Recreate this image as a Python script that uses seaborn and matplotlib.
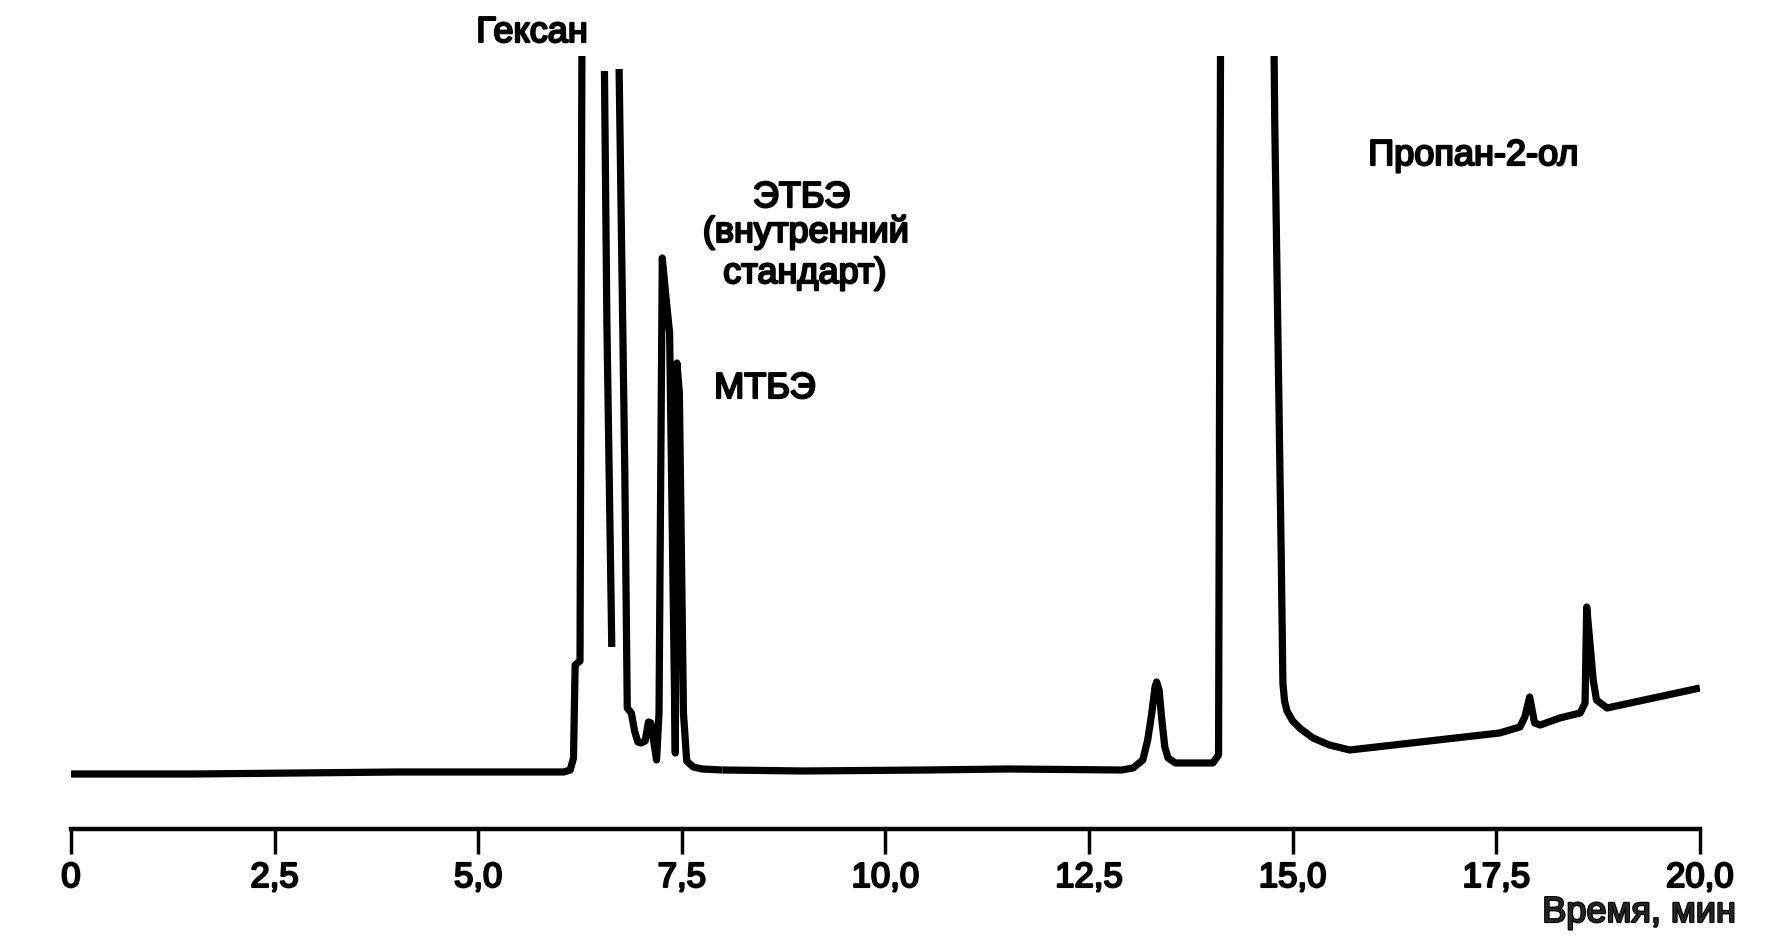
import pandas as pd
import matplotlib.pyplot as plt
import matplotlib.patheffects as pe
import seaborn as sns

# Хроматограмма: время удерживания (мин) и сигнал детектора (усл. ед.)
# значения 900 - пик уходит за верх шкалы (обрезается)
hexane_time = [0.0, 1.5, 2.8, 4.0, 5.9, 6.05, 6.13, 6.17, 6.19, 6.25, 6.28]
hexane_signal = [-1, -1, 0, 1, 1, 1, 3, 15, 108, 112, 900]

peak2_time = [6.55, 6.58, 6.64]
peak2_signal = [702, 450, 126]

ethers_time = [6.73, 6.80, 6.83, 6.88, 6.92, 6.96, 7.00, 7.05, 7.09, 7.12, 7.19, 7.22,
               7.26, 7.30, 7.35, 7.42, 7.44, 7.47, 7.52, 7.56, 7.64, 7.75, 8.00]
ethers_signal = [704, 300, 65, 60, 42, 31, 30, 32, 51, 50, 13, 60,
                 515, 480, 440, 20, 410, 380, 60, 12, 6, 4, 3]

late_time = [8.00, 9.0, 10.5, 11.5, 12.9, 13.04, 13.16, 13.22, 13.27, 13.31, 13.33, 13.36,
             13.39, 13.43, 13.47, 13.56, 14.02, 14.09, 14.12, 14.75, 14.78, 14.86, 14.88,
             14.90, 14.93, 15.00, 15.10, 15.25, 15.45, 15.70, 17.54, 17.79, 17.85, 17.91,
             17.97, 18.04, 18.28, 18.53, 18.59, 18.61, 18.65, 18.69, 18.73, 18.86, 20.0]
late_signal = [3, 2, 3, 4, 3, 5, 13, 33, 60, 86, 91, 83,
               56, 26, 15, 10, 10, 18, 900, 900, 650, 213, 90,
               72, 62, 52, 44, 35, 28, 23, 40, 46, 56, 76,
               50, 48, 55, 60, 70, 166, 130, 93, 73, 65, 85]

tick_values = [0, 2.5, 5, 7.5, 10, 12.5, 15, 17.5, 20]
tick_labels = ["0", "2,5", "5,0", "7,5", "10,0", "12,5", "15,0", "17,5", "20,0"]

# сборка таблицы для seaborn
frames = []
for name, t, s in [("hexane", hexane_time, hexane_signal),
                   ("peak2", peak2_time, peak2_signal),
                   ("ethers", ethers_time, ethers_signal),
                   ("late", late_time, late_signal)]:
    frames.append(pd.DataFrame({"time": t, "signal": s, "segment": name}))
df = pd.concat(frames, ignore_index=True)

sns.set_style("white")
plt.rcParams['font.family'] = ['Liberation Sans', 'DejaVu Sans']

fig = plt.figure(figsize=(17.7, 9.4), dpi=100)
ax = fig.add_axes([0.0401, 0.1181, 0.9203, 0.8223])

sns.lineplot(data=df, x="time", y="signal", units="segment", estimator=None, sort=False,
             color="black", linewidth=5.2, legend=False, ax=ax)
for line in ax.lines:
    line.set_solid_capstyle("butt")

ax.set_xlim(0, 20)
ax.set_ylim(-56, 717)
ax.set_yticks([])
ax.set_ylabel("")
ax.set_xticks(tick_values)
ax.set_xticklabels(tick_labels)
ax.tick_params(axis="x", direction="out", length=18, width=2.5, pad=5,
               labelsize=25, color="black", labelcolor="black", bottom=True)
for side in ["left", "top", "right"]:
    ax.spines[side].set_visible(False)
ax.spines["bottom"].set_linewidth(3.2)
ax.spines["bottom"].set_color("black")

thick = [pe.withStroke(linewidth=1.6, foreground="black")]
for lab in ax.get_xticklabels():
    lab.set_path_effects(thick)

ax.set_xlabel("Время, мин", fontsize=26, ha="right", va="baseline", path_effects=thick)
ax.xaxis.set_label_coords(1.022, -0.1203)

txt = dict(fontsize=26, ha="center", va="baseline", color="black", path_effects=thick)
ax.text(5.66, 731, "Гексан", **txt)
ax.text(8.97, 566, "ЭТБЭ", **txt)
ax.text(9.02, 531, "(внутренний", **txt)
ax.text(9.01, 490, "стандарт)", **txt)
ax.text(8.52, 375, "МТБЭ", **txt)
ax.text(17.22, 608, "Пропан-2-ол", **txt)

fig.savefig("out.png", dpi=100)
